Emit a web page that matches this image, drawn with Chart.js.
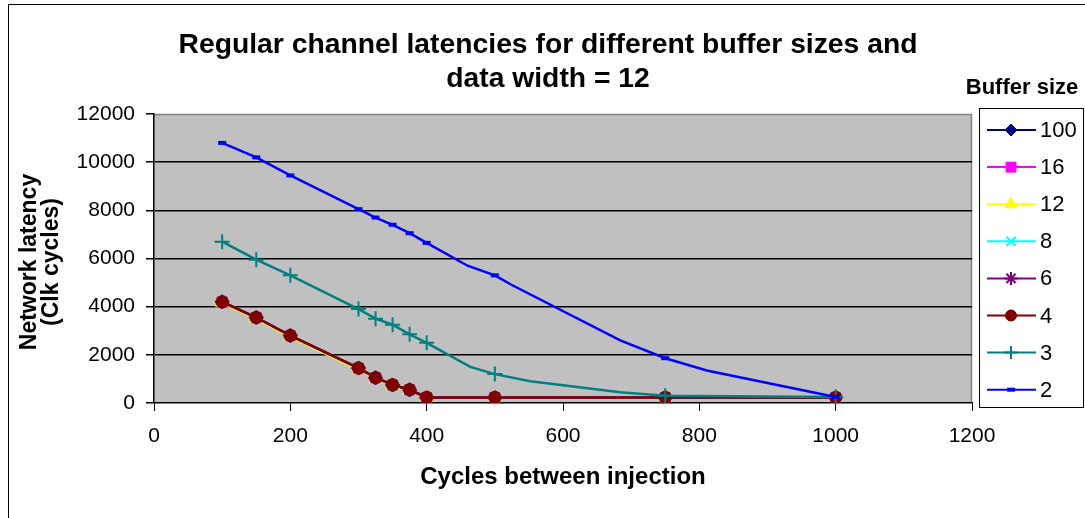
<!DOCTYPE html>
<html><head><meta charset="utf-8">
<script src="https://cdn.jsdelivr.net/npm/chart.js@4/dist/chart.umd.min.js"></script>
<style>html,body{margin:0;padding:0;background:#fff;}#wrap{width:1085px;height:518px;position:relative}</style>
</head><body><div id="wrap"><canvas id="c" width="1085" height="518"></canvas></div>
<script>
// ---- text ----
const titleLines = ["Regular channel latencies for different buffer sizes and", "data width = 12"];
const xTitle = "Cycles between injection";
const yTitleLines = ["Network latency", "(Clk cycles)"];
const legendTitle = "Buffer size";
const seriesNames = ["100", "16", "12", "8", "6", "4", "3", "2"];
const xTickLabels = [0, 200, 400, 600, 800, 1000, 1200];
const yTickLabels = [0, 2000, 4000, 6000, 8000, 10000, 12000];

// ---- data (x = cycles between injection, y = latency) ----
const markedX = [100, 150, 200, 300, 325, 350, 375, 400, 500, 750, 1000];
const xsSmall = [100, 150, 200, 300, 325, 350, 375, 400, 500, 750, 1000];
const buf100 = [4200, 3550, 2800, 1450, 1050, 750, 550, 230, 230, 230, 230];
const buf16 = [4200, 3550, 2800, 1450, 1050, 750, 550, 230, 230, 230, 230];
const buf12 = [4150, 3500, 2750, 1400, 1000, 720, 520, 220, 220, 220, 220];
const buf8 = [4200, 3550, 2800, 1450, 1050, 750, 550, 230, 230, 230, 230];
const buf6 = [4200, 3550, 2800, 1450, 1050, 750, 550, 230, 230, 230, 230];
const buf4 = [4200, 3550, 2800, 1450, 1050, 750, 550, 230, 230, 230, 230];
const xs3 = [100, 150, 200, 300, 325, 350, 375, 400, 464, 500, 552, 684, 750, 1000];
const buf3 = [6700, 5950, 5300, 3900, 3500, 3250, 2850, 2500, 1500, 1200, 900, 450, 300, 250];
const xs2 = [100, 150, 200, 300, 325, 350, 375, 400, 460, 500, 525, 684, 750, 811, 1000];
const buf2 = [10800, 10200, 9450, 8050, 7700, 7400, 7050, 6650, 5700, 5300, 4900, 2600, 1860, 1350, 250];

const FONT = "'Liberation Sans', Arial, sans-serif";

function pts(xs, ys) { return xs.map((x, i) => ({ x: x, y: ys[i] })); }

const styles = [
  { color: '#000080', fill: '#000080', pointStyle: 'rectRot', radius: 7, lr: 6, bw: 1 },
  { color: '#FF00FF', fill: '#FF00FF', pointStyle: 'rect', radius: 6.5, lr: 7, bw: 1 },
  { color: '#FFFF00', fill: '#FFFF00', pointStyle: 'triangle', radius: 7.5, lr: 7, bw: 1 },
  { color: '#00FFFF', fill: '#00FFFF', pointStyle: 'crossRot', radius: 7, lr: 6.5, bw: 2 },
  { color: '#800080', fill: '#800080', pointStyle: 'star', radius: 7, lr: 6.5, bw: 2 },
  { color: '#800000', fill: '#800000', pointStyle: 'circle', radius: 6.2, lr: 5.5, bw: 1 },
  { color: '#008080', fill: '#008080', pointStyle: 'cross', radius: 7.5, lr: 6.5, bw: 2 },
  { color: '#0000FF', fill: '#0000FF', pointStyle: 'line', radius: 4, lr: 4, bw: 4 }
];
const seriesData = [
  pts(xsSmall, buf100), pts(xsSmall, buf16), pts(xsSmall, buf12), pts(xsSmall, buf8),
  pts(xsSmall, buf6), pts(xsSmall, buf4), pts(xs3, buf3), pts(xs2, buf2)
];

const datasets = seriesNames.map((name, i) => ({
  label: name,
  data: seriesData[i],
  borderColor: styles[i].color,
  backgroundColor: styles[i].fill,
  borderWidth: 2.5,
  pointStyle: styles[i].pointStyle,
  pointRadius: (ctx) => (ctx.raw && markedX.indexOf(ctx.raw.x) >= 0) ? styles[i].radius : 0,
  pointBorderWidth: styles[i].bw,
  pointBorderColor: styles[i].color,
  pointBackgroundColor: styles[i].fill,
  tension: 0,
  order: 8 - i
}));

const bgPlugin = {
  id: 'bg',
  beforeDraw(chart) {
    const { ctx, chartArea: a } = chart;
    ctx.save();
    ctx.fillStyle = '#fff';
    ctx.fillRect(0, 0, chart.width, chart.height);
    ctx.strokeStyle = '#000';
    ctx.lineWidth = 1;
    ctx.strokeRect(8.5, 4.5, 1200, 700);
    ctx.fillStyle = '#C0C0C0';
    ctx.fillRect(a.left, a.top, a.right - a.left, a.bottom - a.top);
    ctx.strokeStyle = '#808080';
    ctx.lineWidth = 1.5;
    ctx.beginPath();
    ctx.moveTo(a.left, a.top + 0.5);
    ctx.lineTo(a.right - 0.5, a.top + 0.5);
    ctx.lineTo(a.right - 0.5, a.bottom);
    ctx.stroke();
    ctx.restore();
  }
};

function drawMarker(ctx, st, x, y) {
  ctx.fillStyle = st.fill;
  ctx.strokeStyle = st.color;
  ctx.lineWidth = st.bw;
  Chart.helpers.drawPoint(ctx, { pointStyle: st.pointStyle, radius: st.lr, rotation: 0, borderWidth: st.bw }, x, y);
}

const textPlugin = {
  id: 'texts',
  afterDraw(chart) {
    const { ctx, chartArea: a } = chart;
    ctx.save();
    ctx.fillStyle = '#000';
    ctx.font = "bold 28.3px " + FONT;
    ctx.textAlign = 'center';
    ctx.textBaseline = 'middle';
    ctx.fillText(titleLines[0], 548, 45);
    ctx.fillText(titleLines[1], 548, 79);
    ctx.font = "bold 24px " + FONT;
    ctx.fillText(xTitle, (a.left + a.right) / 2, 477);
    ctx.save();
    ctx.font = "bold 23px " + FONT;
    ctx.translate(30, 262);
    ctx.rotate(-Math.PI / 2);
    ctx.fillText(yTitleLines[0], 0, 0);
    ctx.fillText(yTitleLines[1], 0, 22);
    ctx.restore();
    ctx.font = "bold 22px " + FONT;
    ctx.fillText(legendTitle, 1022, 88);
    ctx.fillStyle = '#fff';
    ctx.fillRect(979, 108, 104, 299);
    ctx.strokeStyle = '#000';
    ctx.lineWidth = 1;
    ctx.strokeRect(979.5, 108.5, 104, 299);
    ctx.font = "22px " + FONT;
    ctx.textAlign = 'left';
    for (let i = 0; i < seriesNames.length; i++) {
      const y = 130 + i * 37.1;
      const st = styles[i];
      ctx.strokeStyle = st.color;
      ctx.lineWidth = 2;
      ctx.beginPath();
      ctx.moveTo(987, y);
      ctx.lineTo(1036, y);
      ctx.stroke();
      drawMarker(ctx, st, 1011, y);
      ctx.fillStyle = '#000';
      ctx.fillText(seriesNames[i], 1040, y + 1);
    }
    ctx.restore();
  }
};

new Chart(document.getElementById('c'), {
  type: 'line',
  data: { datasets: datasets },
  options: {
    responsive: false,
    animation: false,
    devicePixelRatio: 1,
    layout: { padding: { top: 114, right: 113, left: 0, bottom: 0 } },
    plugins: { legend: { display: false }, title: { display: false }, tooltip: { enabled: false } },
    scales: {
      x: {
        type: 'linear', min: 0, max: 1200,
        afterBuildTicks: (s) => { s.ticks = xTickLabels.map(v => ({ value: v })); },
        afterFit: (s) => { s.height = 115; },
        ticks: { color: '#000', font: { family: FONT, size: 21 }, padding: 13, maxRotation: 0, callback: (v) => String(v) },
        grid: { drawOnChartArea: false, tickLength: 8, tickColor: '#000', color: '#000' },
        border: { color: '#000', width: 1.5 }
      },
      y: {
        min: 0, max: 12000,
        afterBuildTicks: (s) => { s.ticks = yTickLabels.map(v => ({ value: v })); },
        afterFit: (s) => { s.width = 154; },
        ticks: { color: '#000', font: { family: FONT, size: 21 }, padding: 11, callback: (v) => String(v) },
        grid: {
          tickLength: 8, tickColor: '#000',
          color: (c) => (c.tick && (c.tick.value === 12000 || c.tick.value === 0)) ? 'rgba(0,0,0,0)' : '#000',
          lineWidth: 1.5
        },
        border: { color: '#000', width: 1.5 }
      }
    }
  },
  plugins: [bgPlugin, textPlugin]
});
</script></body></html>
